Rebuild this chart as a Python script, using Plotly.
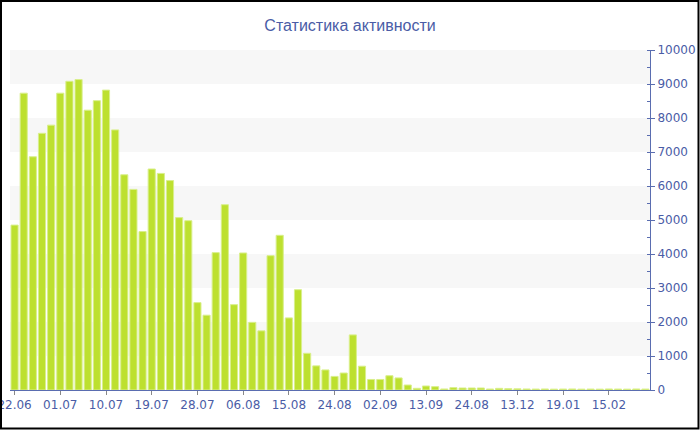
import plotly.graph_objects as go

title_text = "Статистика активности"
tick_labels = ["22.06", "01.07", "10.07", "19.07", "28.07", "06.08", "15.08",
               "24.08", "02.09", "13.09", "24.08", "13.12", "19.01", "15.02"]
values = [4850, 8730, 6860, 7550, 7790, 8730, 9080, 9130, 8230, 8510,
          8820, 7650, 6330, 5900, 4660, 6500, 6370, 6160, 5070, 4980,
          2570, 2200, 4040, 5450, 2510, 4030, 1990, 1740, 3950, 4550,
          2120, 2950, 1080, 710, 590, 400, 500, 1620, 700, 310,
          310, 420, 355, 147, 50, 118, 98, 30, 69, 59,
          59, 59, 29, 49, 39, 35, 30, 28, 30, 25,
          28, 30, 25, 28, 25, 30, 28, 25, 30, 28]
tick_step = 5

x_idx = list(range(len(values)))
tick_vals = [i * tick_step for i in range(len(tick_labels))]

blue = "#4a5ca6"
fig = go.Figure()
fig.add_trace(go.Bar(
    x=x_idx, y=values,
    marker=dict(color="#bde02f", line=dict(color="#d9ef8c", width=1)),
    hoverinfo="y",
))

# alternating bands
shapes = []
for lo in [1000, 3000, 5000, 7000, 9000]:
    shapes.append(dict(type="rect", xref="paper", yref="y", x0=0, x1=1, y0=lo, y1=lo + 1000,
                       fillcolor="#f7f7f7", line=dict(width=0), layer="below"))
# outer frame
L, R, T, B = 10, 50, 50, 40
W, H = 700, 430
pw, ph = W - L - R, H - T - B
shapes.append(dict(type="rect", xref="paper", yref="paper",
                   x0=(1 - L) / pw, x1=(W - 1.5 - L) / pw,
                   y0=-(B - 1.5) / ph, y1=1 + (T - 1) / ph,
                   line=dict(color="black", width=2), fillcolor="rgba(0,0,0,0)", layer="above"))

fig.update_layout(
    width=W, height=H,
    margin=dict(l=L, r=R, t=T, b=B),
    paper_bgcolor="white", plot_bgcolor="white",
    bargap=0.22,
    showlegend=False,
    shapes=shapes,
    title=dict(text=title_text, x=0.5, xref="container", xanchor="center",
               y=1 - 25 / H, yref="container", yanchor="middle",
               font=dict(family="Liberation Sans", size=16, color=blue)),
    font=dict(family="DejaVu Sans", size=12, color=blue),
    xaxis=dict(range=[-0.5, len(values) - 0.5], tickmode="array",
               tickvals=tick_vals, ticktext=tick_labels,
               automargin=False, ticklabeloverflow="allow",
               showgrid=False, zeroline=False,
               showline=True, linecolor="#5a6db0", linewidth=1,
               ticks="outside", ticklen=4, tickcolor="#888888",
               tickfont=dict(family="DejaVu Sans", size=12, color=blue)),
    yaxis=dict(range=[0, 10000], side="right", dtick=1000, tickformat="d",
               automargin=False, ticklabeloverflow="allow",
               showgrid=False, zeroline=False,
               showline=True, linecolor="#5a6db0", linewidth=1,
               ticks="outside", ticklen=4, tickcolor="#5a6db0",
               minor=dict(dtick=500, ticks="inside", ticklen=3, tickcolor="#5a6db0", showgrid=False),
               tickfont=dict(family="DejaVu Sans", size=12, color=blue)),
)

fig.write_html("out.html", config={"displayModeBar": False},
               post_script="document.body.style.margin='0';document.body.style.padding='0';")
